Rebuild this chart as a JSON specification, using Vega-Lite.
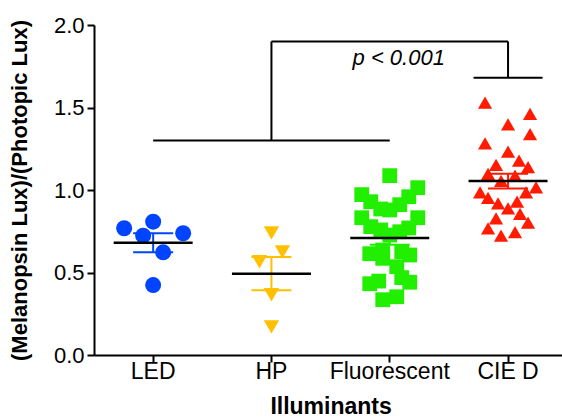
{
  "$schema": "https://vega.github.io/schema/vega-lite/v6.json",
  "width": 468,
  "height": 330,
  "autosize": {"type": "none"},
  "padding": {"left": 94, "top": 25, "right": 0, "bottom": 63},
  "config": {
    "view": {"stroke": null},
    "font": "Liberation Sans",
    "axis": {
      "grid": false,
      "domainColor": "black",
      "domainWidth": 2,
      "tickColor": "black",
      "tickWidth": 2,
      "tickSize": 7,
      "labelFont": "Liberation Sans",
      "labelFontSize": 22,
      "labelColor": "black",
      "titleFont": "Liberation Sans",
      "titleFontSize": 22,
      "titleFontWeight": "bold",
      "titleColor": "black"
    }
  },
  "datasets": {
    "pts": [
      {"group": "LED", "value": 0.768, "jit": -29},
      {"group": "LED", "value": 0.808, "jit": 0},
      {"group": "LED", "value": 0.723, "jit": -10},
      {"group": "LED", "value": 0.738, "jit": 30},
      {"group": "LED", "value": 0.622, "jit": 10},
      {"group": "LED", "value": 0.424, "jit": 0},
      {"group": "HP", "value": 0.74, "jit": 0},
      {"group": "HP", "value": 0.625, "jit": 11},
      {"group": "HP", "value": 0.565, "jit": -12},
      {"group": "HP", "value": 0.365, "jit": 0},
      {"group": "HP", "value": 0.17, "jit": 0},
      {"group": "Fluorescent", "value": 1.087, "jit": 0},
      {"group": "Fluorescent", "value": 1.014, "jit": 28},
      {"group": "Fluorescent", "value": 0.972, "jit": -28},
      {"group": "Fluorescent", "value": 0.929, "jit": -19},
      {"group": "Fluorescent", "value": 0.959, "jit": 19},
      {"group": "Fluorescent", "value": 0.911, "jit": 10},
      {"group": "Fluorescent", "value": 0.885, "jit": -9},
      {"group": "Fluorescent", "value": 0.879, "jit": 0},
      {"group": "Fluorescent", "value": 0.832, "jit": -28},
      {"group": "Fluorescent", "value": 0.832, "jit": 28},
      {"group": "Fluorescent", "value": 0.778, "jit": -19},
      {"group": "Fluorescent", "value": 0.770, "jit": 19},
      {"group": "Fluorescent", "value": 0.758, "jit": -9},
      {"group": "Fluorescent", "value": 0.747, "jit": 10},
      {"group": "Fluorescent", "value": 0.727, "jit": 0},
      {"group": "Fluorescent", "value": 0.614, "jit": -20},
      {"group": "Fluorescent", "value": 0.636, "jit": -7},
      {"group": "Fluorescent", "value": 0.586, "jit": -7},
      {"group": "Fluorescent", "value": 0.626, "jit": 12},
      {"group": "Fluorescent", "value": 0.606, "jit": 20},
      {"group": "Fluorescent", "value": 0.535, "jit": 7},
      {"group": "Fluorescent", "value": 0.469, "jit": 12},
      {"group": "Fluorescent", "value": 0.441, "jit": 20},
      {"group": "Fluorescent", "value": 0.432, "jit": -20},
      {"group": "Fluorescent", "value": 0.448, "jit": -11},
      {"group": "Fluorescent", "value": 0.335, "jit": -7},
      {"group": "Fluorescent", "value": 0.353, "jit": 7},
      {"group": "CIE D", "value": 1.529, "jit": -23},
      {"group": "CIE D", "value": 1.461, "jit": 22},
      {"group": "CIE D", "value": 1.398, "jit": 0},
      {"group": "CIE D", "value": 1.338, "jit": 22},
      {"group": "CIE D", "value": 1.283, "jit": -23},
      {"group": "CIE D", "value": 1.232, "jit": 0},
      {"group": "CIE D", "value": 1.152, "jit": -12},
      {"group": "CIE D", "value": 1.178, "jit": 11},
      {"group": "CIE D", "value": 1.138, "jit": 20},
      {"group": "CIE D", "value": 1.097, "jit": -20},
      {"group": "CIE D", "value": 1.087, "jit": 7},
      {"group": "CIE D", "value": 1.055, "jit": -7},
      {"group": "CIE D", "value": 1.016, "jit": 28},
      {"group": "CIE D", "value": 0.986, "jit": -28},
      {"group": "CIE D", "value": 0.986, "jit": 18},
      {"group": "CIE D", "value": 0.953, "jit": -20},
      {"group": "CIE D", "value": 0.919, "jit": -10},
      {"group": "CIE D", "value": 0.929, "jit": 9},
      {"group": "CIE D", "value": 0.889, "jit": 0},
      {"group": "CIE D", "value": 0.855, "jit": 12},
      {"group": "CIE D", "value": 0.828, "jit": -12},
      {"group": "CIE D", "value": 0.802, "jit": 20},
      {"group": "CIE D", "value": 0.768, "jit": -20},
      {"group": "CIE D", "value": 0.744, "jit": 7},
      {"group": "CIE D", "value": 0.723, "jit": -7}
    ],
    "bracket": [
      {"g1": "LED", "g2": "Fluorescent", "y1": 1.3, "y2": 1.3},
      {"g1": "HP", "g2": "HP", "y1": 1.3, "y2": 1.9},
      {"g1": "HP", "g2": "CIE D", "y1": 1.9, "y2": 1.9},
      {"g1": "CIE D", "g2": "CIE D", "y1": 1.68, "y2": 1.9}
    ],
    "cap": [{"g1": "CIE D", "y1": 1.68}],
    "label": [{"g1": "Fluorescent", "y1": 1.757, "text": "p < 0.001"}]
  },
  "layer": [
    {
      "data": {"name": "bracket"},
      "mark": {"type": "rule", "color": "black", "strokeWidth": 2},
      "encoding": {
        "x": {"field": "g1", "type": "nominal", "title": "Illuminants"},
        "x2": {"field": "g2"},
        "y": {"field": "y1", "type": "quantitative", "title": "(Melanopsin Lux)/(Photopic Lux)"},
        "y2": {"field": "y2"}
      }
    },
    {
      "data": {"name": "cap"},
      "mark": {"type": "tick", "color": "black", "size": 69, "thickness": 2, "opacity": 1},
      "encoding": {
        "x": {"field": "g1", "type": "nominal", "title": "Illuminants"},
        "y": {"field": "y1", "type": "quantitative", "title": "(Melanopsin Lux)/(Photopic Lux)"}
      }
    },
    {
      "data": {"name": "label"},
      "mark": {"type": "text", "fontSize": 22, "fontStyle": "italic", "font": "Liberation Sans", "color": "black", "baseline": "alphabetic", "align": "center", "dx": 9},
      "encoding": {
        "x": {"field": "g1", "type": "nominal", "title": "Illuminants"},
        "y": {"field": "y1", "type": "quantitative", "title": "(Melanopsin Lux)/(Photopic Lux)"},
        "text": {"field": "text"}
      }
    },
    {
      "data": {"name": "pts"},
      "mark": {"type": "point", "filled": true, "opacity": 1, "strokeWidth": 0},
      "encoding": {
        "x": {"field": "group", "type": "nominal", "title": "Illuminants"},
        "xOffset": {"field": "jit", "type": "quantitative", "scale": {"domain": [-59.15, 59.15], "range": [0, 118.3]}},
        "y": {"field": "value", "type": "quantitative", "title": "(Melanopsin Lux)/(Photopic Lux)"},
        "color": {"field": "group", "type": "nominal", "legend": null,
          "scale": {"domain": ["LED", "HP", "Fluorescent", "CIE D"], "range": ["#0044ff", "#ffc000", "#22ee00", "#ff1a00"]}},
        "shape": {"field": "group", "type": "nominal", "legend": null,
          "scale": {"domain": ["LED", "HP", "Fluorescent", "CIE D"], "range": ["circle", "triangle-down", "square", "triangle-up"]}},
        "size": {"field": "group", "type": "ordinal", "legend": null,
          "scale": {"domain": ["LED", "HP", "Fluorescent", "CIE D"], "range": [256, 200, 256, 225]}}
      }
    },
    {
      "data": {"name": "pts"},
      "mark": {"type": "errorbar", "extent": "stderr", "thickness": 2, "ticks": {"size": 40, "thickness": 2, "opacity": 1}},
      "encoding": {
        "x": {"field": "group", "type": "nominal", "title": "Illuminants"},
        "y": {"field": "value", "type": "quantitative", "title": "(Melanopsin Lux)/(Photopic Lux)"},
        "color": {"field": "group", "type": "nominal", "legend": null}
      }
    },
    {
      "data": {"name": "pts"},
      "mark": {"type": "tick", "color": "black", "size": 79, "thickness": 2.5, "opacity": 1},
      "encoding": {
        "x": {
          "field": "group", "type": "nominal",
          "title": "Illuminants",
          "sort": ["LED", "HP", "Fluorescent", "CIE D"],
          "scale": {"domain": ["LED", "HP", "Fluorescent", "CIE D"], "range": [0, 473.2], "paddingInner": 0, "paddingOuter": 0},
          "axis": {"labelAngle": 0, "labelAlign": "center", "labelFontSize": 23, "labelPadding": 9, "titlePadding": 12, "titleFontSize": 23}
        },
        "y": {
          "aggregate": "mean", "field": "value", "type": "quantitative",
          "title": "(Melanopsin Lux)/(Photopic Lux)",
          "scale": {"domain": [0, 2], "nice": false},
          "axis": {"values": [0, 0.5, 1, 1.5, 2], "format": ".1f", "labelPadding": 3, "titleX": -75, "titleY": 165, "titleBaseline": "middle", "titleAlign": "center", "titleAngle": -90}
        }
      }
    }
  ]
}
